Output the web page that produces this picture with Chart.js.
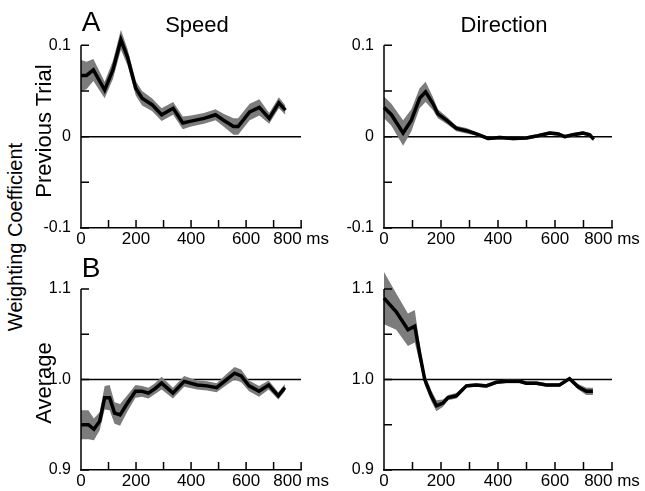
<!DOCTYPE html>
<html>
<head>
<meta charset="utf-8">
<script src="https://cdn.jsdelivr.net/npm/chart.js@4.4.0/dist/chart.umd.min.js"></script>
<style>
body{margin:0;background:#fff;}
#wrap{position:relative;width:645px;height:491px;overflow:hidden;background:#fff;font-family:"Liberation Sans",Arial,sans-serif;color:#000;}
canvas{position:absolute;}
.t{position:absolute;white-space:nowrap;line-height:1;transform:translate(-50%,-50%);}
.rot{transform:translate(-50%,-50%) rotate(-90deg);}
</style>
</head>
<body>
<div id="wrap">
<canvas id="c1" width="290" height="245" style="left:40px;top:7px"></canvas>
<canvas id="c2" width="305" height="245" style="left:340px;top:7px"></canvas>
<canvas id="c3" width="290" height="240" style="left:40px;top:251px"></canvas>
<canvas id="c4" width="305" height="240" style="left:340px;top:251px"></canvas>

<div class="t" style="left:91px;top:22px;font-size:28px">A</div>
<div class="t" style="left:91px;top:268px;font-size:28px">B</div>
<div class="t" style="left:197px;top:25px;font-size:22px">Speed</div>
<div class="t" style="left:504px;top:25px;font-size:22px">Direction</div>
<div class="t rot" style="left:15px;top:237px;font-size:20px">Weighting Coefficient</div>
<div class="t rot" style="left:44px;top:131px;font-size:22px">Previous Trial</div>
<div class="t rot" style="left:44px;top:383px;font-size:22px">Average</div>
</div>

<script>
// tick labels
var xTickLabels = ['0', '200', '400', '600', '800 ms'];
var prevTickLabels = ['-0.1', '0', '0.1'];
var avgTickLabels = ['0.9', '1.0', '1.1'];

// speed - previous trial
var speedPrevMs = [0, 20, 45, 86, 116, 145, 169, 199, 222, 258, 293, 335, 370, 400, 447, 489, 518, 554, 571, 613, 648, 684, 719, 743];
var speedPrev = [0.067, 0.067, 0.073, 0.051, 0.073, 0.106, 0.087, 0.053, 0.042, 0.035, 0.024, 0.031, 0.015, 0.017, 0.020, 0.024, 0.018, 0.011, 0.011, 0.027, 0.032, 0.020, 0.037, 0.029];
var speedPrevErr = [0.017, 0.015, 0.012, 0.009, 0.010, 0.011, 0.009, 0.008, 0.008, 0.007, 0.007, 0.007, 0.007, 0.006, 0.006, 0.006, 0.007, 0.009, 0.009, 0.009, 0.009, 0.006, 0.006, 0.005];

// direction - previous trial
var dirPrevMs = [0, 26, 67, 96, 125, 146, 172, 189, 219, 254, 289, 324, 365, 406, 453, 499, 540, 581, 611, 634, 663, 698, 722, 736];
var dirPrev = [0.032, 0.024, 0.004, 0.018, 0.042, 0.049, 0.036, 0.025, 0.018, 0.009, 0.0065, 0.003, -0.002, -0.001, -0.002, -0.0015, 0.001, 0.004, 0.003, 0.0, 0.002, 0.004, 0.002, -0.003];
var dirPrevErr = [0.012, 0.012, 0.014, 0.012, 0.011, 0.011, 0.007, 0.005, 0.004, 0.003, 0.003, 0.002, 0.002, 0.002, 0.002, 0.002, 0.002, 0.002, 0.002, 0.002, 0.002, 0.002, 0.002, 0.002];

// speed - average
var speedAvgMs = [0, 27, 47, 68, 86, 104, 122, 142, 169, 198, 222, 245, 269, 293, 334, 375, 422, 458, 493, 529, 558, 582, 611, 647, 682, 717, 741];
var speedAvg = [0.950, 0.950, 0.945, 0.954, 0.980, 0.980, 0.963, 0.961, 0.974, 0.987, 0.987, 0.985, 0.990, 0.996, 0.985, 0.998, 0.994, 0.993, 0.991, 1.000, 1.007, 1.004, 0.993, 0.987, 0.994, 0.982, 0.991];
var speedAvgErr = [0.016, 0.016, 0.012, 0.010, 0.013, 0.014, 0.012, 0.012, 0.009, 0.007, 0.006, 0.006, 0.006, 0.007, 0.006, 0.006, 0.005, 0.005, 0.005, 0.006, 0.007, 0.007, 0.006, 0.006, 0.005, 0.004, 0.004];

// direction - average
var dirAvgMs = [0, 43, 84, 108, 125, 143, 166, 184, 207, 225, 254, 289, 324, 359, 394, 429, 476, 499, 535, 570, 616, 651, 681, 710, 733];
var dirAvg = [1.090, 1.075, 1.055, 1.059, 1.029, 1.000, 0.982, 0.971, 0.974, 0.980, 0.982, 0.993, 0.994, 0.993, 0.997, 0.998, 0.998, 0.996, 0.996, 0.994, 0.994, 1.001, 0.992, 0.987, 0.987];
var dirAvgErr = [0.029, 0.020, 0.018, 0.018, 0.010, 0.006, 0.006, 0.006, 0.004, 0.003, 0.003, 0.002, 0.002, 0.002, 0.002, 0.002, 0.002, 0.002, 0.002, 0.002, 0.002, 0.002, 0.003, 0.004, 0.004];

function pts(ms, vals) {
    var out = [];
    for (var i = 0; i < ms.length; i++) {
        out.push({x: ms[i], y: vals[i]});
    }
    return out;
}

// y axis line (only up to the top tick) and inward tick marks
var tickMarks = {
    id: 'tickMarks',
    afterDraw: function(chart) {
        var c = chart.ctx, xs = chart.scales.x, ys = chart.scales.y, a = chart.chartArea;
        var yTop = ys.getPixelForValue(ys.ticks[ys.ticks.length - 1].value);
        c.save();
        c.strokeStyle = '#000';
        c.lineWidth = 1.5;
        c.beginPath();
        c.moveTo(a.left, a.bottom + 0.75);
        c.lineTo(a.left, yTop);
        xs.ticks.forEach(function(t) {
            var px = xs.getPixelForValue(t.value);
            c.moveTo(px, a.bottom);
            c.lineTo(px, a.bottom - 8);
        });
        ys.ticks.forEach(function(t) {
            var py = ys.getPixelForValue(t.value);
            c.moveTo(a.left, py);
            c.lineTo(a.left + 8, py);
        });
        c.stroke();
        c.restore();
    }
};

function makeChart(id, ms, mean, err, ymin, ymax, refY, yLabels, yw, xh, padTop, padRight) {
    var up = [], lo = [];
    for (var i = 0; i < mean.length; i++) {
        up.push(mean[i] + err[i]);
        lo.push(mean[i] - err[i]);
    }
    var ctx = document.getElementById(id).getContext('2d');
    return new Chart(ctx, {
        type: 'line',
        data: {
            datasets: [{
                data: pts(ms, mean),
                borderColor: '#000',
                borderWidth: 3.5,
                pointRadius: 0,
                fill: false,
                clip: false
            }, {
                data: pts(ms, up),
                borderColor: 'rgba(0,0,0,0)',
                borderWidth: 0,
                pointRadius: 0,
                fill: false,
                clip: false
            }, {
                data: pts(ms, lo),
                borderColor: 'rgba(0,0,0,0)',
                borderWidth: 0,
                backgroundColor: '#7c7c7c',
                pointRadius: 0,
                fill: '-1',
                clip: false
            }, {
                data: [{x: 0, y: refY}, {x: 800, y: refY}],
                borderColor: '#000',
                borderWidth: 1.5,
                pointRadius: 0,
                fill: false
            }]
        },
        options: {
            responsive: false,
            animation: false,
            layout: {padding: {top: padTop, right: padRight, left: 0, bottom: 0}},
            plugins: {legend: {display: false}, tooltip: {enabled: false}},
            scales: {
                x: {
                    type: 'linear',
                    min: 0,
                    max: 800,
                    afterFit: function(s) { s.height = xh; },
                    border: {display: true, color: '#000', width: 1.5},
                    grid: {display: false, drawTicks: false},
                    ticks: {
                        stepSize: 100,
                        autoSkip: false,
                        maxRotation: 0,
                        padding: 1,
                        color: '#000',
                        font: {family: '"Liberation Sans", Arial, sans-serif', size: 17},
                        callback: function(v, idx) { return idx % 2 === 0 ? xTickLabels[idx / 2] : ''; }
                    }
                },
                y: {
                    type: 'linear',
                    min: ymin,
                    // a little room above the top tick so the band can go past it
                    max: ymax + 0.02,
                    afterBuildTicks: function(s) {
                        var tk = [];
                        for (var k = 0; k <= 4; k++) {
                            tk.push({value: ymin + k * (ymax - ymin) / 4});
                        }
                        s.ticks = tk;
                    },
                    afterFit: function(s) { s.width = yw; },
                    border: {display: false},
                    grid: {display: false, drawTicks: false},
                    ticks: {
                        autoSkip: false,
                        padding: 10,
                        color: '#000',
                        font: {family: '"Liberation Sans", Arial, sans-serif', size: 16},
                        callback: function(v, idx) { return idx % 2 === 0 ? yLabels[idx / 2] : ''; }
                    }
                }
            }
        },
        plugins: [tickMarks]
    });
}

//speed, previous trial
var chart1 = makeChart('c1', speedPrevMs, speedPrev, speedPrevErr, -0.1, 0.1, 0, prevTickLabels, 41, 24, 20, 24);
//direction, previous trial
var chart2 = makeChart('c2', dirPrevMs, dirPrev, dirPrevErr, -0.1, 0.1, 0, prevTickLabels, 44, 24, 20, 33);
//speed, average
var chart3 = makeChart('c3', speedAvgMs, speedAvg, speedAvgErr, 0.9, 1.1, 1.0, avgTickLabels, 41, 21, 20, 24);
//direction, average
var chart4 = makeChart('c4', dirAvgMs, dirAvg, dirAvgErr, 0.9, 1.1, 1.0, avgTickLabels, 44, 21, 20, 33);
</script>
</body>
</html>
